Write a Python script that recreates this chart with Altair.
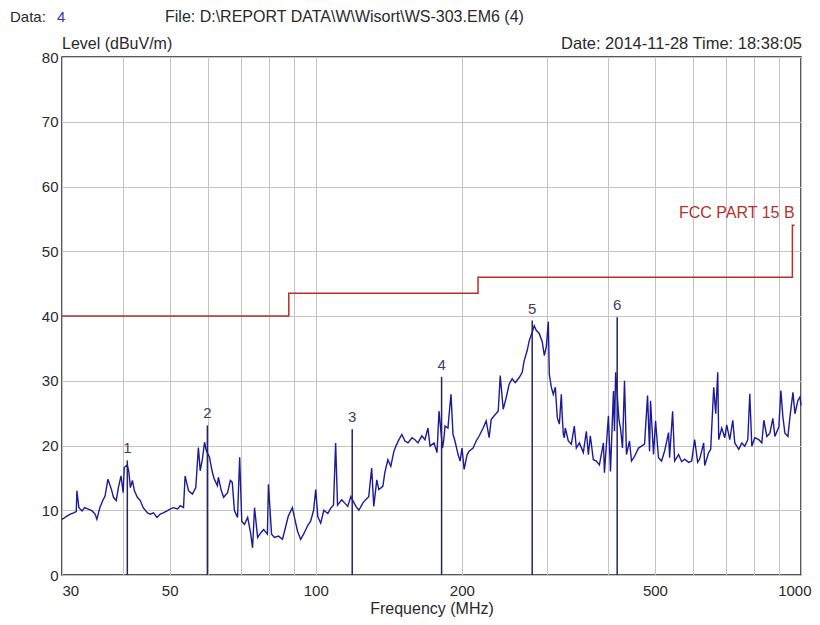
import altair as alt
import pandas as pd

# ---- data ----
freq = [30.0, 30.3, 30.7, 31.2, 31.7, 32.1, 32.2, 32.5, 33.0, 33.4, 33.9, 34.6, 35.1, 35.4, 35.9,
        36.4, 36.8, 37.3, 37.9, 38.3, 38.8, 39.2, 39.7, 40.1, 40.3, 40.9, 41.2, 41.5, 41.9, 42.3,
        42.9, 43.5, 44.1, 45.0, 45.6, 46.3, 47.1, 47.8, 48.5, 49.4, 50.2, 50.9, 51.9, 52.6, 53.4,
        53.8, 54.7, 55.7, 56.6, 57.3, 57.8, 58.4, 59.0, 59.5, 60.4, 61.2, 61.8, 62.7, 63.0, 63.9,
        64.6, 65.8, 66.7, 67.3, 68.0, 69.0, 69.7, 70.4, 71.3, 72.4, 73.4, 74.1, 74.8, 75.9, 77.0,
        78.1, 79.5, 79.9, 81.1, 82.2, 83.8, 85.4, 86.6, 87.8, 89.5, 90.4, 91.7, 93.1, 94.4, 96.2,
        97.6, 99.0, 100.0, 101.0, 102.4, 103.9, 105.9, 107.3, 108.8, 109.9, 110.9, 113.1, 114.8,
        116.4, 118.1, 121.0, 122.7, 125.0, 126.6, 128.6, 130.4, 131.7, 133.6, 134.9, 137.5, 138.8,
        140.8, 142.8, 144.9, 146.3, 148.4, 150.5, 152.7, 154.9, 157.9, 160.1, 162.4, 165.5, 167.9,
        170.3, 172.0, 175.3, 177.8, 179.5, 182.5, 183.5, 184.7, 187.3, 188.2, 190.0, 191.8, 193.6,
        196.5, 198.4, 200.2, 202.2, 205.1, 207.0, 211.0, 214.1, 217.3, 221.3, 224.5, 227.7, 229.9,
        233.2, 237.7, 240.0, 243.4, 246.9, 250.4, 254.0, 257.7, 262.6, 266.4, 268.9, 272.8, 275.4,
        279.3, 282.0, 284.7, 288.8, 293.0, 295.8, 298.6, 301.5, 302.9, 305.8, 308.7, 311.7, 314.6,
        317.7, 320.7, 322.2, 323.8, 325.3, 326.8, 331.5, 336.3, 341.1, 344.4, 349.3, 356.0, 361.1,
        364.6, 368.0, 373.3, 378.7, 384.2, 391.6, 393.5, 401.0, 404.9, 410.7, 412.7, 415.0, 421.6,
        424.6, 428.7, 432.8, 436.9, 443.1, 447.4, 453.8, 462.5, 469.2, 476.0, 482.8, 487.4, 489.7,
        496.7, 501.5, 508.6, 516.0, 523.4, 533.4, 536.0, 543.8, 549.0, 559.5, 567.5, 575.7, 586.7,
        595.2, 603.8, 612.4, 618.3, 630.2, 633.2, 645.3, 651.5, 660.9, 667.2, 673.6, 676.8, 686.5,
        696.4, 703.0, 713.2, 723.4, 730.4, 744.4, 755.0, 765.9, 776.9, 784.3, 791.8, 803.2, 818.6,
        830.4, 838.3, 850.4, 862.6, 875.0, 883.4, 900.4, 909.0, 917.7, 926.5, 939.9, 948.9, 962.5,
        971.7, 985.7, 995.1, 1000.0]
level = [8.6, 8.8, 9.1, 9.4, 9.6, 9.8, 13.0, 10.4, 9.9, 10.4, 10.2, 9.9, 9.4, 8.6, 10.4,
         11.5, 12.2, 14.8, 13.3, 12.0, 11.5, 13.5, 15.3, 12.7, 16.6, 17.0, 15.9, 13.5, 14.6, 13.0,
         12.0, 11.5, 10.4, 9.6, 9.4, 9.6, 8.9, 9.4, 9.6, 9.9, 10.2, 10.4, 10.2, 10.7, 10.4,
         15.3, 13.0, 12.5, 13.5, 19.7, 16.1, 17.9, 20.5, 19.2, 18.2, 15.9, 14.8, 13.8, 15.1, 13.0,
         12.0, 12.7, 14.6, 14.3, 9.9, 8.9, 18.2, 8.3, 7.8, 8.9, 6.5, 4.2, 10.4, 5.8, 6.5,
         7.0, 6.3, 14.0, 6.3, 5.8, 6.0, 5.5, 7.3, 9.1, 10.4, 8.9, 6.8, 5.5, 6.3, 7.6,
         8.3, 10.0, 13.2, 9.0, 8.0, 10.0, 9.5, 10.3, 10.8, 20.4, 10.8, 11.6, 11.1,
         10.6, 12.1, 10.6, 10.0, 11.1, 11.6, 12.1, 16.5, 10.6, 14.7, 13.2, 13.7, 15.8,
         17.8, 16.8, 19.1, 19.9, 20.9, 21.7, 20.7, 20.4, 21.2, 20.9, 20.4, 21.5, 20.9,
         22.7, 19.9, 20.4, 18.9, 25.3, 19.6, 20.7, 23.0, 22.7, 24.6, 27.9, 21.7, 20.7,
         18.6, 17.6, 19.6, 16.3, 18.6, 19.1, 19.6, 20.7, 21.5, 22.7, 23.8, 21.2, 24.0,
         24.6, 25.3, 30.8, 25.6, 27.4, 29.5, 30.3, 29.7, 30.5, 31.3, 33.1, 34.7, 36.2,
         37.5, 38.5, 37.8, 37.3, 36.0, 33.9, 35.2, 39.1, 31.0, 29.0, 27.9, 29.0, 24.3,
         23.3, 27.9, 24.3, 21.7, 21.2, 22.7, 20.7, 20.2, 23.0, 19.6, 20.4, 18.9, 22.2,
         18.6, 21.5, 17.8, 17.6, 17.0, 20.4, 15.8, 24.6, 16.0, 28.4, 22.2, 31.3, 24.0,
         22.7, 19.6, 30.0, 18.6, 20.7, 17.6, 18.3, 19.6, 19.9, 20.2, 27.7, 19.1, 26.9,
         18.6, 23.8, 18.1, 17.6, 19.1, 22.0, 18.1, 25.3, 17.6, 18.6, 17.5, 17.9, 17.4,
         17.6, 20.9, 17.4, 17.9, 20.4, 16.9, 18.9, 19.4, 29.0, 24.9, 31.3, 20.9, 22.7,
         21.2, 23.2, 20.9, 23.9, 20.4, 19.4, 20.4, 19.9, 20.9, 28.0, 19.9, 21.2, 20.9,
         20.4, 23.9, 21.4, 21.9, 24.2, 21.4, 22.9, 28.5, 24.4, 21.9, 21.4, 24.4, 28.2,
         24.9, 27.0, 27.5, 26.2]

limit_freq = [30, 88, 88, 216, 216, 960, 960, 970]
limit_level = [40, 40, 43.5, 43.5, 46, 46, 54, 54]

marker_freq = [40.9, 59.8, 118.9, 181.7, 279.3, 418.0]
marker_level = [17.7, 23.1, 22.5, 30.6, 39.3, 39.8]
marker_label = ["1", "2", "3", "4", "5", "6"]

grid_freq = [30, 40, 50, 60, 70, 80, 90, 100, 200, 300, 400, 500, 600, 700, 800, 900, 1000]
label_freq = [30, 50, 100, 200, 500, 1000]
level_ticks = [0, 10, 20, 30, 40, 50, 60, 70, 80]

FONT = "Liberation Sans"
TXT = "#2a2a2a"

trace_df = pd.DataFrame({"freq": freq, "level": level})
limit_df = pd.DataFrame({"freq": limit_freq, "level": limit_level,
                         "order": list(range(len(limit_freq)))})
marker_df = pd.DataFrame({"freq": marker_freq, "level": marker_level, "label": marker_label})
one = pd.DataFrame({"a": [0]})

xscale = alt.Scale(type="log", domain=[30, 1000], nice=False)
yscale = alt.Scale(domain=[0, 80], nice=False)

label_test = " || ".join(f"datum.value == {v}" for v in label_freq)
xaxis = alt.Axis(
    values=grid_freq, format="d",
    labelExpr=f"({label_test}) ? datum.label : ''",
    labelAlign={"condition": [{"test": "datum.value == 30", "value": "left"},
                              {"test": "datum.value == 1000", "value": "right"}],
                "value": "center"},
    labelOffset={"condition": {"test": "datum.value == 1000", "value": 10}, "value": 0},
    grid=True, gridColor="#c4c4c4", gridWidth=1,
    ticks=False, domain=False, labelPadding=8, labelFontSize=15, labelColor=TXT,
    labelFont=FONT, title="Frequency (MHz)", titleFont=FONT, titleFontSize=16,
    titleFontWeight="normal", titleColor=TXT, titlePadding=2, labelOverlap=False,
)
yaxis = alt.Axis(
    values=level_ticks, grid=True, gridColor="#c4c4c4", gridWidth=1,
    ticks=False, domain=False, labelPadding=4, labelFontSize=15, labelColor=TXT,
    labelFont=FONT, title=None,
)

x_enc = alt.X("freq:Q", scale=xscale, axis=xaxis)
y_enc = alt.Y("level:Q", scale=yscale, axis=yaxis)

trace = alt.Chart(trace_df).mark_line(color="#1b1b9a", strokeWidth=1.4).encode(
    x=x_enc, y=y_enc)

limit = alt.Chart(limit_df).mark_line(color="#b5302a", strokeWidth=1.5).encode(
    x=x_enc, y=y_enc, order="order:Q")

markers = alt.Chart(marker_df).mark_rule(color="#25255e", strokeWidth=1.5).encode(
    x=x_enc, y=y_enc, y2=alt.Y2(datum=0))

marker_text = alt.Chart(marker_df).mark_text(
    dy=-12, baseline="middle", align="center", fontSize=15, font=FONT, color="#3e3e62"
).encode(x=x_enc, y=y_enc, text="label:N")

fcc = alt.Chart(one).mark_text(
    text="FCC PART 15 B", align="right", baseline="middle", fontSize=16, font=FONT,
    color="#b5302a"
).encode(x=alt.datum(970), y=alt.datum(55.9))

def label(txt, x, y, align="left", color=TXT, size=17):
    return alt.Chart(one).mark_text(
        text=txt, x=x, y=y, align=align, baseline="middle", fontSize=size, font=FONT,
        color=color)

hdr1 = label("Data:", -52, -40, size=15)
hdr2 = label("4", -5, -40, color="#2b3a9e", size=15)
hdr3 = label("File: D:\\REPORT DATA\\W\\Wisort\\WS-303.EM6  (4)", 103, -40, size=16)
hdr4 = label("Level (dBuV/m)", 0, -13, size=16)
hdr5 = label("Date: 2014-11-28  Time: 18:38:05", 740, -13, align="right", size=16.5)

chart = alt.layer(
    trace, limit, markers, marker_text, fcc, hdr1, hdr2, hdr3, hdr4, hdr5
).properties(
    width=739, height=518,
    autosize=alt.AutoSizeParams(type="none"),
    padding={"left": 54, "top": 49, "right": 11, "bottom": 48},
    background="white",
).configure_view(stroke="#222222", strokeWidth=1.5)

chart.save("out.html", embed_options={"renderer": "svg", "actions": False})
